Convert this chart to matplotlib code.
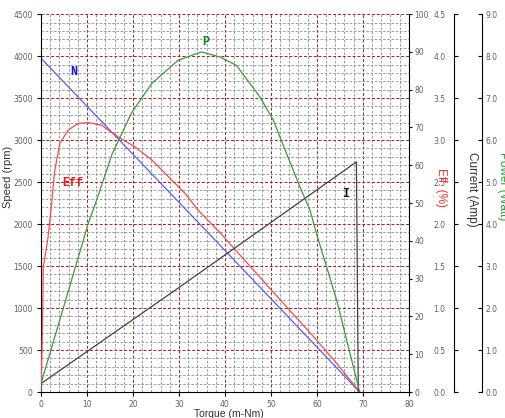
import matplotlib.pyplot as plt
from matplotlib.ticker import MultipleLocator

# Values (torque in m-Nm)
speed_torque = [0, 38.9, 69.3]
speed_rpm = [3975, 1750, 0]

eff_torque = [0, 0.3, 0.5, 1.46, 2.2, 3.0, 4.1, 5.9, 8.1, 10.3, 13.2, 16.8, 20.4, 24.1,
              27.7, 31.3, 34.2, 38.9, 49.8, 59.9, 64.3, 69.3]
eff_pct = [0, 15.6, 33.1, 40.2, 48.5, 58.7, 65.8, 69.3, 71.1, 71.3, 70.6, 67.5, 64.9, 61.4,
           57.0, 52.6, 48.1, 42.2, 27.4, 13.8, 7.6, 0]

cur_torque = [0, 29.9, 68.6, 69.0]
cur_amp = [0.10, 1.24, 2.74, 0.0]

pow_torque = [0, 10.3, 12.1, 15.4, 19.7, 24.1, 29.8, 34.9, 38.9, 42.5, 47.6, 50.5,
              53.4, 56.3, 58.5, 59.9, 64.3, 69.3]
pow_watt = [0.2, 4.02, 4.57, 5.65, 6.65, 7.35, 7.90, 8.10, 7.98, 7.78, 7.03, 6.48,
            5.68, 4.89, 4.33, 3.78, 2.19, 0]

tick_col = '#606060'
lab_font = 'Liberation Sans'

fig = plt.figure(figsize=(5.06, 4.18), dpi=100)
ax = fig.add_axes([0.081, 0.0622, 0.727, 0.904])
ax.set_xlim(0, 80)
ax.set_ylim(0, 4500)
ax.xaxis.set_major_locator(MultipleLocator(10))
ax.xaxis.set_minor_locator(MultipleLocator(2))
ax.yaxis.set_major_locator(MultipleLocator(500))
ax.yaxis.set_minor_locator(MultipleLocator(100))
ax.grid(which='minor', color='#8c8c8c', ls=(0, (3, 2)), lw=0.6)
ax.grid(which='major', color='#a82020', ls=(0, (3, 2)), lw=0.7)
ax.tick_params(which='minor', length=0)
ax.tick_params(which='major', length=3, labelsize=5.5, labelcolor=tick_col, pad=3)
ax.spines['top'].set_visible(False)
ax.spines['right'].set_visible(False)
ax.set_xlabel('Torque (m-Nm)', fontsize=7.5, family=lab_font, color='#333333',
              va='center', ha='center')
ax.xaxis.set_label_coords(0.511, -0.057)
ax.set_ylabel('Speed (rpm)', fontsize=8, family=lab_font, color='#333333',
              va='center', ha='center')
ax.yaxis.set_label_coords(-0.089, 0.57)

ax.plot(speed_torque, speed_rpm, color='#5c5cff', lw=0.9)

# efficiency axis on the plot's right edge
ax_eff = ax.twinx()
ax_eff.set_ylim(0, 100)
ax_eff.yaxis.set_major_locator(MultipleLocator(10))
for s in ['left', 'top', 'bottom']:
    ax_eff.spines[s].set_visible(False)
ax_eff.tick_params(length=2, labelsize=5.5, labelcolor=tick_col, pad=2)
ax_eff.set_ylabel('Eff. (%)', fontsize=8.5, family=lab_font, color='#ff3030', rotation=270,
                  va='center', ha='center')
ax_eff.yaxis.set_label_coords(1.087, 0.54)
ax_eff.plot(eff_torque, eff_pct, color='#ff4848', lw=0.9)

# current axis
ax_cur = ax.twinx()
ax_cur.set_ylim(0, 4.5)
ax_cur.yaxis.set_major_locator(MultipleLocator(0.5))
for s in ['right', 'top', 'bottom']:
    ax_cur.spines[s].set_visible(False)
ax_cur.spines['left'].set_visible(True)
ax_cur.spines['left'].set_position(('axes', 1.122))
ax_cur.yaxis.set_ticks_position('left')
ax_cur.yaxis.set_major_formatter('{x:.1f}')
ax_cur.tick_params(direction='in', length=3, labelsize=5.5, labelcolor=tick_col, pad=6)
ax_cur.set_ylabel('Current (Amp)', fontsize=8.5, family=lab_font, color='#333333',
                  rotation=270, va='center', ha='center')
ax_cur.yaxis.set_label_coords(1.171, 0.535)
ax_cur.plot(cur_torque, cur_amp, color='#404040', lw=0.9)

# power axis
ax_pow = ax.twinx()
ax_pow.set_ylim(0, 9)
ax_pow.yaxis.set_major_locator(MultipleLocator(1))
for s in ['left', 'top', 'bottom']:
    ax_pow.spines[s].set_visible(False)
ax_pow.spines['right'].set_position(('axes', 1.198))
ax_pow.yaxis.set_major_formatter('{x:.1f}')
ax_pow.tick_params(direction='in', length=3, labelsize=5.5, labelcolor=tick_col, pad=2.5)
ax_pow.set_ylabel('Power (Watt)', fontsize=8.5, family=lab_font, color='#30a030',
                  rotation=270, va='center', ha='center')
ax_pow.yaxis.set_label_coords(1.257, 0.545)
ax_pow.plot(pow_torque, pow_watt, color='#3a9a3a', lw=0.9)

lab = dict(family='Liberation Mono', weight='bold', fontsize=8.5, ha='center', va='center')
ax.text(7.2, 3813, 'N', color='#1010ff', **lab)
ax.text(35.9, 4163, 'P', color='#108010', **lab)
ax.text(7.0, 2484, 'Eff', color='#ff1010', **lab)
ax.text(66.3, 2353, 'I', color='#101010', **lab)

fig.savefig('out.png', dpi=100)
